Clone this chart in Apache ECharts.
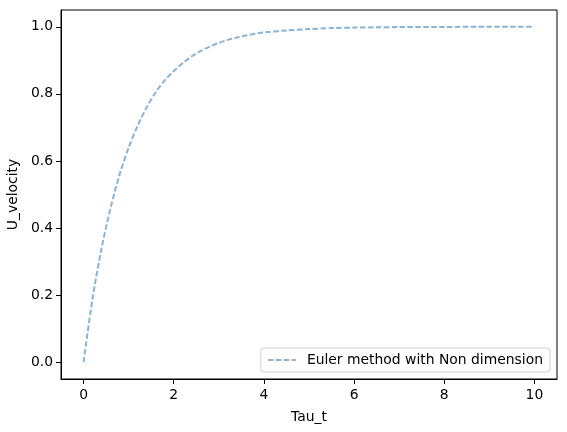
<!DOCTYPE html>
<html lang="en">

<head>
    <meta charset="UTF-8">
    <title>Euler method</title>
    <script src="https://cdn.jsdelivr.net/npm/echarts@6.0.0/dist/echarts.min.js"></script>
    <style>
        body {
            margin: 0;
            background: #fff;
        }

        #chart {
            width: 567px;
            height: 432px;
        }
    </style>
</head>

<body>
    <div id="chart"></div>

    <script>
        // values
        const tauT = [0, 0.2, 0.4, 0.6, 0.8, 1.0, 1.2, 1.4, 1.6, 1.8, 2.0, 2.2, 2.4, 2.6, 2.8, 3.0,
            3.2, 3.4, 3.6, 3.8, 4.0, 4.5, 5.0, 5.5, 6.0, 6.5, 7.0, 8.0, 9.0, 10.0]
        const uVelocity = [0, 0.19, 0.34, 0.46, 0.56, 0.64, 0.705, 0.76, 0.805, 0.84, 0.868, 0.892,
            0.912, 0.928, 0.941, 0.952, 0.961, 0.968, 0.974, 0.979, 0.983, 0.989, 0.993, 0.996,
            0.9975, 0.9985, 0.999, 0.9996, 0.9999, 1.0]
        const xTicks = [0, 2, 4, 6, 8, 10]
        const yTicks = [0, 0.2, 0.4, 0.6, 0.8, 1.0]
        const seriesName = 'Euler method with Non dimension'

        const font = 'DejaVu Sans'
        const fs = 13.9
        const lineColor = '#8bb4d3'

        var myChart = echarts.init(document.getElementById('chart'), null, { renderer: 'canvas' });

        var option = {
            animation: false,
            textStyle: { fontFamily: font },
            grid: {
                left: 61,
                right: 10,
                top: 10,
                bottom: 53,
                outerBoundsMode: 'none',
                containLabel: false,
                show: true,
                borderColor: '#000',
                borderWidth: 1
            },
            legend: {
                right: 17,
                bottom: 60,
                orient: 'vertical',
                backgroundColor: '#fff',
                borderColor: '#d0d0d0',
                borderWidth: 1,
                borderRadius: 3,
                padding: [5, 7, 5, 6],
                itemWidth: 28,
                itemHeight: 10,
                itemGap: 4,
                itemStyle: { opacity: 0 },
                textStyle: { fontFamily: font, fontSize: fs, color: '#000', padding: [0, 0, 0, 6] },
                data: [seriesName]
            },
            xAxis: {
                type: 'value',
                min: -0.5,
                max: 10.5,
                name: 'Tau_t',
                nameLocation: 'middle',
                nameGap: 31,
                nameTextStyle: { fontFamily: font, fontSize: fs, color: '#000' },
                axisLine: { show: true, onZero: false, lineStyle: { color: '#000', width: 1 } },
                axisTick: { show: true, length: 5, lineStyle: { color: '#000' }, customValues: xTicks },
                axisLabel: { fontFamily: font, fontSize: fs, color: '#000', margin: 9, customValues: xTicks },
                splitLine: { show: false }
            },
            yAxis: {
                type: 'value',
                min: -0.05,
                max: 1.05,
                name: 'U_velocity',
                nameLocation: 'middle',
                nameGap: 35,
                nameTextStyle: { fontFamily: font, fontSize: fs, color: '#000' },
                axisLine: { show: true, onZero: false, lineStyle: { color: '#000', width: 1 } },
                axisTick: { show: true, length: 5, lineStyle: { color: '#000' }, customValues: yTicks },
                axisLabel: {
                    fontFamily: font, fontSize: fs, color: '#000', margin: 8,
                    customValues: yTicks,
                    formatter: v => v.toFixed(1)
                },
                splitLine: { show: false }
            },
            series: [
                {
                    name: seriesName,
                    type: 'line',
                    data: tauT.map((t, i) => [t, uVelocity[i]]),
                    smooth: 0.3,
                    showSymbol: false,
                    symbol: 'none',
                    lineStyle: {
                        color: lineColor,
                        width: 2,
                        type: [5.5, 2.4]
                    },
                    itemStyle: { color: lineColor }
                }
            ]
        };

        option && myChart.setOption(option);
    </script>
</body>

</html>
